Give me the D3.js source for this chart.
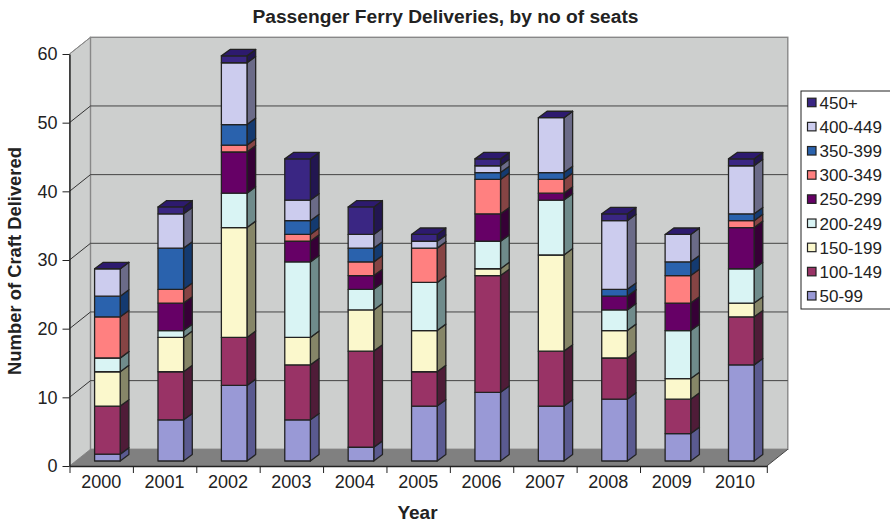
<!DOCTYPE html>
<html>
<head>
<meta charset="utf-8">
<script src="https://cdn.jsdelivr.net/npm/d3@7"></script>
<style>
  html, body { margin: 0; padding: 0; background: #fff; }
  svg { display: block; }
  text { font-family: "Liberation Sans", Arial, sans-serif; fill: #222; }
</style>
</head>
<body>
<svg id="chart"></svg>
<script>
/* ── Data ── */
const YEARS  = ['2000', '2001', '2002', '2003', '2004', '2005', '2006', '2007', '2008', '2009', '2010'];
const SEATS  = ['50-99', '100-149', '150-199', '200-249', '250-299', '300-349', '350-399', '400-449', '450+'];
const S50    = [1, 6, 11, 6, 2, 8, 10, 8, 9, 4, 14];
const S100   = [7, 7, 7, 8, 14, 5, 17, 8, 6, 5, 7];
const S150   = [5, 5, 16, 4, 6, 6, 1, 14, 4, 3, 2];
const S200   = [2, 1, 5, 11, 3, 7, 4, 8, 3, 7, 5];
const S250   = [0, 4, 6, 3, 2, 0, 4, 1, 2, 4, 6];
const S300   = [6, 2, 1, 1, 2, 5, 5, 2, 0, 4, 1];
const S350   = [3, 6, 3, 2, 2, 0, 1, 1, 1, 2, 1];
const S400   = [4, 5, 9, 3, 2, 1, 1, 8, 10, 4, 7];
const S450   = [0, 1, 1, 6, 4, 1, 1, 0, 1, 0, 1];
const SERIES = [S50, S100, S150, S200, S250, S300, S350, S400, S450];

const FRONT  = ['#9999d6', '#993366', '#fbf8cc', '#d9f4f4', '#660066', '#ff8080', '#2a62ad', '#ccccee', '#3a2683'];
const SIDE   = ['#5a5a90', '#4f1c38', '#868668', '#6f8b8b', '#360036', '#864444', '#143a70', '#6b6b88', '#221650'];
const TOP    = '#2d1a6e';
const WALL   = '#cdcfce';
const FLOOR  = '#808080';
const INK    = '#222';

/* ── Layout ── */
const W = 890, H = 524;
const x0 = 69.5, x1 = 766.8;     // front axis
const y0 = 466,  y1 = 54;        // front axis
const depth = { x: 21, y: -16.7 };      // front plane to back wall
const bar   = { x: 6.2, y: -5, w: 25.6, dx: 8.7, dy: -6.4 };

const svg = d3.select('#chart').attr('width', W).attr('height', H);

const xScale = d3.scaleBand().domain(YEARS).range([x0, x1]);
const xEdge  = d3.scaleLinear().domain([0, YEARS.length]).range([x0, x1]);
const yScale = d3.scaleLinear().domain([0, 60]).range([y0, y1]);
const yTicks = d3.range(0, 61, 10);

/* ── Walls and floor ── */
const poly = pts => pts.map(p => p.join(',')).join(' ');

svg.append('polygon')
  .attr('points', poly([[x0, y0], [x0, y1], [x0 + depth.x, y1 + depth.y], [x0 + depth.x, y0 + depth.y]]))
  .attr('fill', WALL)
  .attr('stroke', '#888')
  .attr('stroke-width', 1);

svg.append('rect')
  .attr('x', x0 + depth.x)
  .attr('y', y1 + depth.y)
  .attr('width', x1 - x0)
  .attr('height', y0 - y1)
  .attr('fill', WALL)
  .attr('stroke', '#888')
  .attr('stroke-width', 1.4);

svg.append('polygon')
  .attr('points', poly([[x0, y0], [x0 + depth.x, y0 + depth.y], [x1 + depth.x, y0 + depth.y], [x1, y0]]))
  .attr('fill', FLOOR);

/* ── Gridlines, on the left wall and the back wall ── */
svg.selectAll('.grid')
  .data(yTicks.slice(1, -1))
  .join('line')
  .attr('class', 'grid')
  .attr('x1', x0 + depth.x)
  .attr('x2', x1 + depth.x)
  .attr('y1', d => yScale(d) + depth.y)
  .attr('y2', d => yScale(d) + depth.y)
  .attr('stroke', '#444')
  .attr('stroke-width', 1);

svg.selectAll('.grid-side')
  .data(yTicks.slice(1))
  .join('line')
  .attr('class', 'grid-side')
  .attr('x1', x0)
  .attr('x2', x0 + depth.x)
  .attr('y1', d => yScale(d))
  .attr('y2', d => yScale(d) + depth.y)
  .attr('stroke', d => d === 60 ? '#888' : '#333')
  .attr('stroke-width', 1);

// floor edge at the right, goes up to the back wall
svg.append('line')
  .attr('x1', x1).attr('y1', y0)
  .attr('x2', x1 + depth.x).attr('y2', y0 + depth.y)
  .attr('stroke', '#444')
  .attr('stroke-width', 1);

/* ── Stacked 3D bars ── */
const barG = svg.append('g')
  .attr('transform', `translate(${bar.x},${bar.y})`)
  .attr('stroke', INK)
  .attr('stroke-width', 1.3)
  .attr('stroke-linejoin', 'round');

YEARS.forEach((year, i) => {
  const left  = xScale(year) + (xScale.bandwidth() - bar.w) / 2;
  const right = left + bar.w;
  let sum = 0;

  SERIES.forEach((values, s) => {
    const yBase = yScale(sum);
    sum += values[i];
    const yTop = yScale(sum);

    barG.append('polygon')
      .attr('points', poly([[right, yBase], [right, yTop], [right + bar.dx, yTop + bar.dy], [right + bar.dx, yBase + bar.dy]]))
      .attr('fill', SIDE[s]);

    barG.append('rect')
      .attr('x', left)
      .attr('y', yTop)
      .attr('width', bar.w)
      .attr('height', yBase - yTop)
      .attr('fill', FRONT[s]);
  });

  const yTop = yScale(sum);
  barG.append('polygon')
    .attr('points', poly([[left, yTop], [right, yTop], [right + bar.dx, yTop + bar.dy], [left + bar.dx, yTop + bar.dy]]))
    .attr('fill', TOP);
});

/* ── Axes ── */
const styleAxis = ax => {
  ax.select('.domain').attr('stroke', INK).attr('stroke-width', 1.4);
  ax.selectAll('.tick line').attr('stroke', INK).attr('stroke-width', 1);
  ax.selectAll('.tick text').attr('fill', INK).attr('font-size', 18)
    .attr('font-family', '"Liberation Sans", Arial, sans-serif');
};

svg.append('g')
  .attr('transform', `translate(${x0},0)`)
  .call(d3.axisLeft(yScale).tickValues(yTicks).tickSize(7).tickPadding(5).tickSizeOuter(0))
  .call(styleAxis);

svg.append('g')
  .attr('transform', `translate(0,${y0})`)
  .call(d3.axisBottom(xEdge).ticks(YEARS.length).tickSize(7).tickSizeOuter(0).tickFormat(''))
  .call(styleAxis);

svg.append('g')
  .attr('transform', `translate(0,${y0})`)
  .call(d3.axisBottom(xScale).tickSize(0).tickPadding(9))
  .call(styleAxis)
  .call(ax => ax.select('.domain').remove());

/* ── Titles ── */
svg.append('text')
  .attr('x', 445.5).attr('y', 23)
  .attr('text-anchor', 'middle')
  .attr('font-size', 19.2)
  .attr('font-weight', 700)
  .text('Passenger Ferry Deliveries, by no of seats');

svg.append('text')
  .attr('x', 417.5).attr('y', 519)
  .attr('text-anchor', 'middle')
  .attr('font-size', 19)
  .attr('font-weight', 700)
  .text('Year');

svg.append('text')
  .attr('transform', 'translate(21,261) rotate(-90)')
  .attr('text-anchor', 'middle')
  .attr('font-size', 18.4)
  .attr('font-weight', 700)
  .text('Number of Craft Delivered');

/* ── Legend ── */
const legendY = d3.scalePoint()
  .domain(SEATS.slice().reverse())
  .range([102.7, 296]);

svg.append('rect')
  .attr('x', 801).attr('y', 91)
  .attr('width', 100).attr('height', 218)
  .attr('fill', '#fff')
  .attr('stroke', INK)
  .attr('stroke-width', 1);

const item = svg.selectAll('.legend-item')
  .data(SEATS)
  .join('g')
  .attr('class', 'legend-item')
  .attr('transform', d => `translate(0,${legendY(d)})`);

item.append('rect')
  .attr('x', 807.5).attr('y', -4.5)
  .attr('width', 8.5).attr('height', 8.5)
  .attr('fill', (d, i) => FRONT[i])
  .attr('stroke', INK)
  .attr('stroke-width', 1.2);

item.append('text')
  .attr('x', 819.5).attr('y', 6)
  .attr('font-size', 17)
  .text(d => d);
</script>
</body>
</html>
